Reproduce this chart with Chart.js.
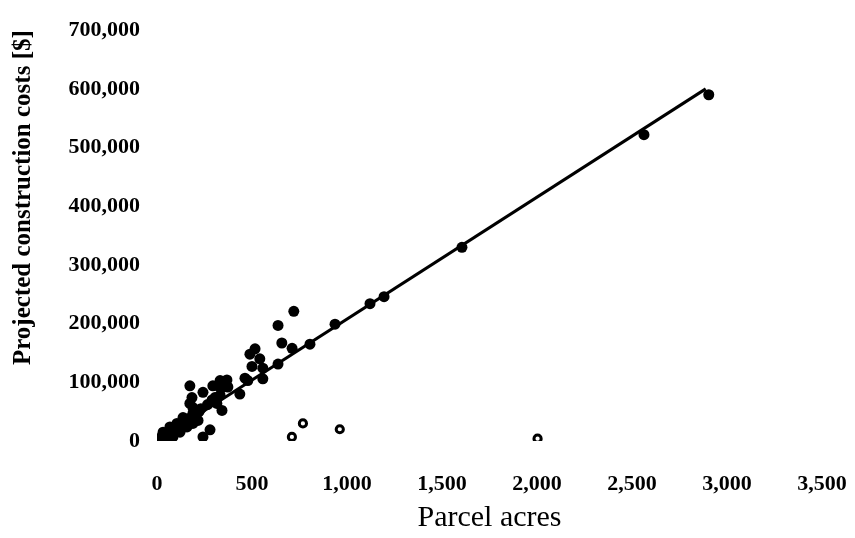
<!DOCTYPE html>
<html>
<head>
<meta charset="utf-8">
<script src="https://cdn.jsdelivr.net/npm/chart.js@4/dist/chart.umd.min.js"></script>
<style>
html,body{margin:0;padding:0;background:#fff;}
#wrap{width:855px;height:538px;position:relative;}
</style>
</head>
<body>
<div id="wrap"><canvas id="c" width="855" height="538"></canvas></div>
<script>
// Parcels with projected construction costs (filled markers)
const filledAcres = [2904, 2563, 1605, 1195, 1121, 937, 805, 720, 711, 637, 657, 637, 516, 489, 541, 500, 557, 557, 463, 478, 436, 368, 332, 357, 321, 294, 373, 305, 342, 332, 242, 173, 184, 173, 189, 315, 342, 189, 137, 216, 189, 105, 158, 68, 121, 32, 84, 57, 16, 279, 242, 266, 290, 231, 44, 94, 133, 162, 202, 221];
const filledCosts = [590000, 522000, 330000, 246000, 234000, 199000, 165000, 221000, 158000, 197000, 167000, 131000, 157000, 148000, 140000, 127000, 124000, 106000, 107000, 103000, 80000, 104000, 103000, 99000, 94000, 94000, 92000, 74000, 91000, 78000, 83000, 94000, 74000, 64000, 57000, 64000, 52000, 47000, 40000, 35000, 30000, 30000, 24000, 24000, 15000, 15000, 7000, 7000, 5000, 19000, 7000, 62000, 70000, 55000, 10000, 20000, 28000, 38000, 45000, 50000];
// Outlier parcels (hollow markers)
const hollowAcres = [710, 768, 962, 2003];
const hollowCosts = [7000, 30000, 20000, 4000];
// Fitted trend line end points
const trendAcres = [0, 2888];
const trendCosts = [0, 600000];
// Axis ticks
const xTicks = [0, 500, 1000, 1500, 2000, 2500, 3000, 3500];
const yTicks = [0, 100000, 200000, 300000, 400000, 500000, 600000, 700000];

const toPts = (xs, ys) => xs.map((x, i) => ({x: x, y: ys[i]}));
const fmt = v => Number(v).toLocaleString('en-US');
const serif = "'Liberation Serif', 'DejaVu Serif', serif";

new Chart(document.getElementById('c'), {
  type: 'scatter',
  data: {
    datasets: [
      {
        type: 'line',
        data: toPts(trendAcres, trendCosts),
        borderColor: '#000',
        borderWidth: 3,
        pointRadius: 0,
        fill: false,
        order: 1
      },
      {
        data: toPts(filledAcres, filledCosts),
        backgroundColor: '#000',
        borderColor: '#000',
        borderWidth: 0,
        pointRadius: 5.5,
        order: 0
      },
      {
        data: toPts(hollowAcres, hollowCosts),
        backgroundColor: '#fff',
        borderColor: '#000',
        borderWidth: 3,
        pointRadius: 3.6,
        order: 0
      }
    ]
  },
  options: {
    responsive: false,
    animation: false,
    layout: {padding: {top: 26, right: 0, left: 0, bottom: 0}},
    plugins: {legend: {display: false}, tooltip: {enabled: false}},
    scales: {
      x: {
        type: 'linear',
        min: 0, max: 3500,
        afterBuildTicks: s => { s.ticks = xTicks.map(v => ({value: v})); },
        afterFit: s => { s.height = 97; s.paddingRight = 33; s.paddingLeft = 0; },
        grid: {display: false, drawTicks: false},
        border: {display: false},
        ticks: {
          color: '#000', padding: 30,
          font: {family: serif, size: 22, weight: 'bold'},
          callback: v => fmt(v), maxRotation: 0
        },
        title: {
          display: true, text: 'Parcel acres', color: '#000',
          font: {family: serif, size: 30},
          padding: {top: 0, bottom: 2}
        }
      },
      y: {
        type: 'linear',
        min: 0, max: 700000,
        afterBuildTicks: s => { s.ticks = yTicks.map(v => ({value: v})); },
        afterFit: s => { s.width = 157; },
        grid: {display: false, drawTicks: false},
        border: {display: false},
        ticks: {
          color: '#000', padding: 17,
          font: {family: serif, size: 22, weight: 'bold'},
          callback: v => fmt(v)
        },
        title: {
          display: true, text: 'Projected construction costs [$]', color: '#000',
          align: 'end',
          font: {family: serif, size: 25, weight: 'bold'},
          padding: {top: 9, bottom: 0}
        }
      }
    }
  }
});
</script>
</body>
</html>
